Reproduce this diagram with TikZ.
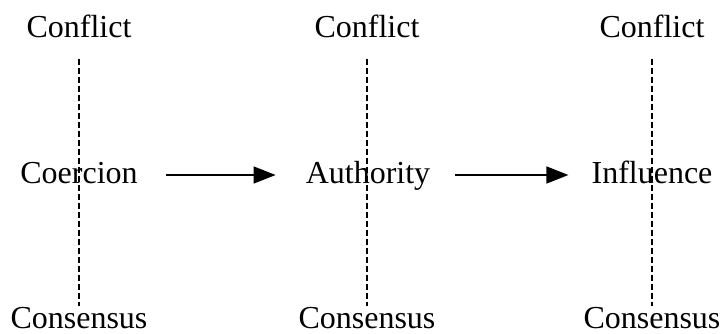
\documentclass[tikz,border=0pt]{standalone}
\usepackage{fontspec}
\setmainfont{Liberation Serif}
\usetikzlibrary{arrows.meta}
\begin{document}
\begin{tikzpicture}[x=1pt,y=-1pt,
  lbl/.style={inner sep=0pt,anchor=base,font=\fontsize{32}{38}\selectfont},
  axis/.style={dash pattern=on 6pt off 3pt,line width=1.6pt,shorten <=21pt,shorten >=1pt},
  flow/.style={line width=1.5pt,-{Triangle[length=22pt,width=17pt]}}]
\useasboundingbox (0,0) rectangle (724,333);
\node[lbl] (c1) at (79,37) {Conflict};
\node[lbl] (c2) at (367,37) {Conflict};
\node[lbl] (c3) at (652,37) {Conflict};
\node[lbl] (s1) at (79,328) {Consensus};
\node[lbl] (s2) at (367,328) {Consensus};
\node[lbl] (s3) at (652,328) {Consensus};
\draw[axis] (c1.south) -- (s1.north);
\draw[axis] (c2.south) -- (s2.north);
\draw[axis] (c3.south) -- (s3.north);
\node[lbl] (co) at (79,183) {Coercion};
\node[lbl] (au) at (368,183) {Authority};
\node[lbl] (in) at (652,183) {Influence};
\draw[flow] ([xshift=28pt,yshift=8pt]co.base east) -- ([xshift=-30pt,yshift=8pt]au.base west);
\draw[flow] ([xshift=25pt,yshift=8pt]au.base east) -- ([xshift=-23pt,yshift=8pt]in.base west);
\end{tikzpicture}
\end{document}
